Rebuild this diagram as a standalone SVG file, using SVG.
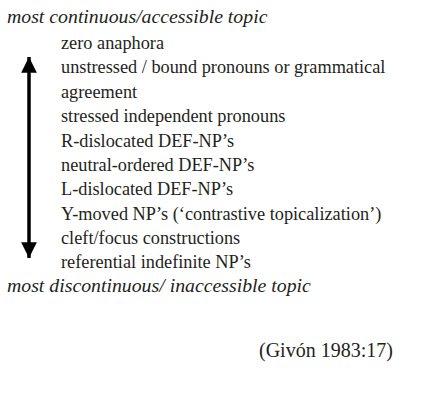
<svg xmlns="http://www.w3.org/2000/svg" width="433" height="395" viewBox="0 0 433 395">
<style>
text{font-family:"Liberation Serif","Times New Roman",serif;font-size:18.3px;fill:#231f20}
.it{font-style:italic;font-size:19.8px}
.src{font-size:20px}
</style>
<defs>
<marker id="ah" viewBox="0 0 10 10" refX="10" refY="5" markerWidth="4.5" markerHeight="4.5" orient="auto-start-reverse" markerUnits="strokeWidth">
<path d="M0,0 L10,5 L0,10 Z" fill="#000"/>
</marker>
</defs>
<rect width="433" height="395" fill="#fff"/>
<g id="connectors">
<line x1="29" y1="57" x2="29" y2="258" stroke="#000" stroke-width="3.5" marker-start="url(#ah)" marker-end="url(#ah)"/>
</g>
<g id="top-label"><text class="it" x="7" y="23">most continuous/accessible topic</text></g>
<g id="items">
<text x="61" y="49">zero anaphora</text>
<text x="61" y="73">unstressed / bound pronouns or grammatical</text>
<text x="61" y="98">agreement</text>
<text x="61" y="122">stressed independent pronouns</text>
<text x="61" y="147">R-dislocated DEF-NP’s</text>
<text x="61" y="171">neutral-ordered DEF-NP’s</text>
<text x="61" y="195">L-dislocated DEF-NP’s</text>
<text x="61" y="220">Y-moved NP’s (‘contrastive topicalization’)</text>
<text x="61" y="244">cleft/focus constructions</text>
<text x="61" y="268">referential indefinite NP’s</text>
</g>
<g id="bottom-label"><text class="it" x="7" y="292">most discontinuous/ inaccessible topic</text></g>
<g id="source"><text class="src" x="259" y="357">(Givón 1983:17)</text></g>
</svg>
